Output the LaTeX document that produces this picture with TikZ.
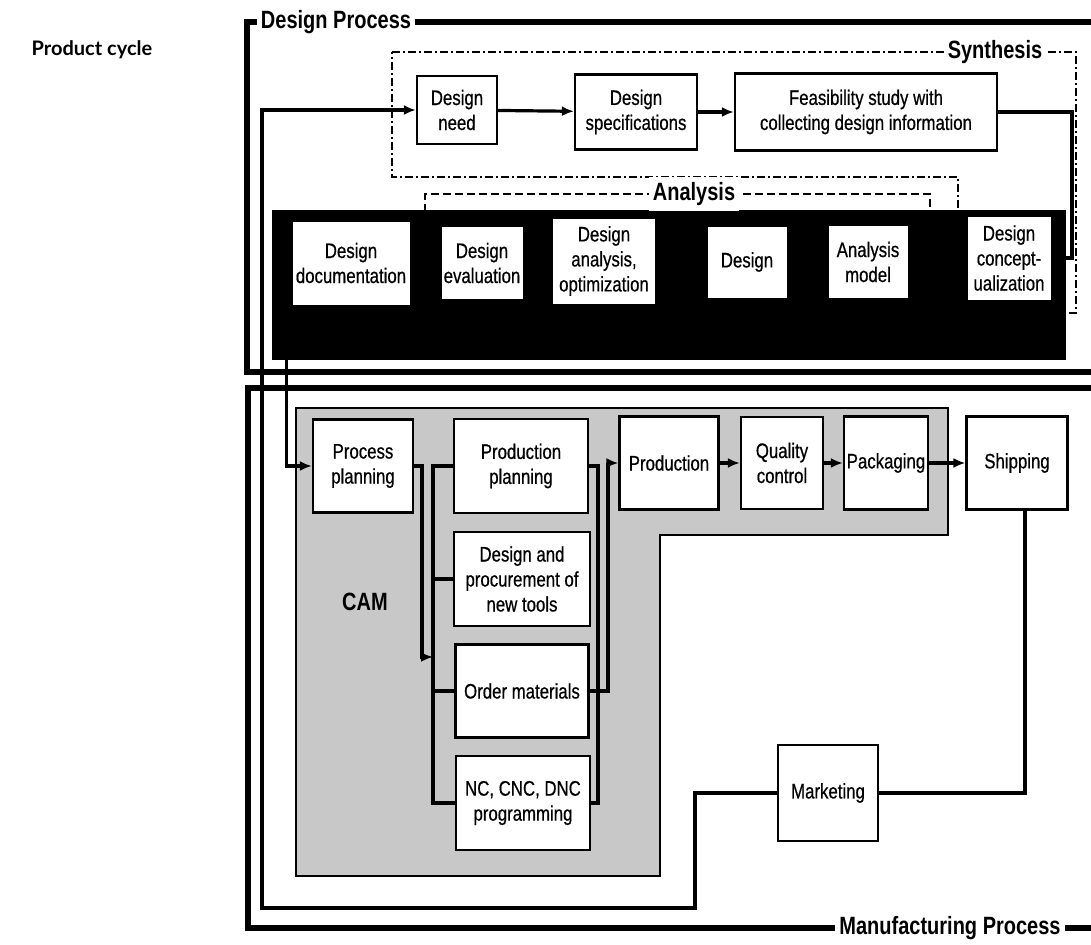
\documentclass[tikz,border=0pt]{standalone}
\usepackage{fontspec}
\setmainfont{Liberation Sans}[FakeStretch=0.8, UprightFeatures={FakeBold=0.6}]
\newfontfamily\cyclefont{Lato}
\usetikzlibrary{arrows.meta}
\definecolor{camgrau}{RGB}{200,200,200}

\begin{document}
\begin{tikzpicture}[x=1pt, y=-1pt, >={Latex[length=12pt,width=10pt]},
	font=\fontsize{21}{25}\selectfont,
	box/.style={draw, line width=2.2pt, fill=white, align=center, inner sep=2pt},
	wbox/.style={fill=white, align=center, inner sep=2pt},
	conn/.style={line width=3.2pt},
	frame/.style={line width=5.5pt},
	lbl/.style={fill=white, inner xsep=4pt, inner ysep=5pt, font=\fontsize{25}{28}\selectfont\bfseries}]

	\useasboundingbox (0,0) rectangle (1091,944);

	\node[font=\cyclefont\fontsize{20}{24}\selectfont\bfseries] (cycle) at (92,50) {Product cycle};

	% frames
	\draw[frame] (1091,22) -- (247,22) -- (247,372) -- (1091,372);
	\draw[frame] (1091,388) -- (248,388) -- (248,928) -- (1091,928);

	\draw[line width=1.8pt, dash pattern=on 8pt off 3pt on 2pt off 3pt]
		(392,52) -- (1076,52) -- (1076,313) -- (958,313) -- (958,177) -- (392,177) -- cycle;
	\draw[line width=1.8pt, dash pattern=on 8pt off 4pt]
		(425,212) -- (425,194) -- (930,194) -- (930,212);

	\fill (272,210) rectangle (1066,360);
	\draw[line width=1.8pt, fill=camgrau]
		(296,408) -- (948,408) -- (948,535) -- (660,535) -- (660,876) -- (296,876) -- cycle;

	% design process
	\node[box, minimum width=80pt, minimum height=68pt] (need) at (457,110) {Design\\need};
	\node[box, minimum width=122pt, minimum height=75pt] (spec) at (636,112) {Design\\specifications};
	\node[box, minimum width=262pt, minimum height=77pt] (feas) at (866,112) {Feasibility study with\\collecting design information};

	\node[wbox, minimum width=117pt, minimum height=83pt] (doc) at (351,263) {Design\\documentation};
	\node[wbox, minimum width=81pt, minimum height=72pt] (eval) at (482,263) {Design\\evaluation};
	\node[wbox, minimum width=102pt, minimum height=85pt] (opt) at (604,261) {Design\\analysis,\\optimization};
	\node[wbox, minimum width=79pt, minimum height=71pt] (design) at (747,262) {Design};
	\node[wbox, minimum width=79pt, minimum height=72pt] (model) at (868,262) {Analysis\\model};
	\node[wbox, minimum width=83pt, minimum height=83pt] (concept) at (1009,258) {Design\\concept-\\ualization};

	% manufacturing process
	\node[box, minimum width=100pt, minimum height=93pt] (pp) at (363,466) {Process\\planning};
	\node[box, minimum width=134pt, minimum height=94pt] (prodplan) at (521,466) {Production\\planning};
	\node[box, minimum width=136pt, minimum height=94pt] (tools) at (522,579) {Design and\\procurement of\\new tools};
	\node[box, minimum width=133pt, minimum height=93pt] (order) at (522,691) {Order materials};
	\node[box, minimum width=134pt, minimum height=94pt] (nc) at (523,803) {NC, CNC, DNC\\programming};
	\node[box, minimum width=99pt, minimum height=93pt] (prod) at (669,463) {Production};
	\node[box, minimum width=82pt, minimum height=92pt] (qc) at (782,463) {Quality\\control};
	\node[box, minimum width=84pt, minimum height=93pt] (pack) at (886,463) {Packaging};
	\node[box, minimum width=101pt, minimum height=93pt] (ship) at (1017,463) {Shipping};
	\node[box, minimum width=100pt, minimum height=96pt] (mkt) at (828,793) {Marketing};

	\node[font=\fontsize{25}{28}\selectfont\bfseries] (cam) at (365,602) {CAM};

	\coordinate (lbus) at (433,0);
	\coordinate (rbus) at (598,0);
	\coordinate (obus) at (608,0);
	\coordinate (pj) at (422,657);

	\draw[conn,->] (need) -- (spec);
	\draw[conn,->] (spec) -- (feas);
	\draw[conn] (feas.east) -| (1072,258) -- (concept.east);
	\draw[conn,->] ([xshift=-6pt]doc.south west) |- (pp.west);

	\draw[conn,->] (pp.east) -| (pj) -- (pj -| lbus);
	\draw[conn] (prodplan.west) -| (lbus |- nc.west) -- (nc.west);
	\draw[conn] (tools.west) -- (tools.west -| lbus);
	\draw[conn] (order.west) -- (order.west -| lbus);
	\draw[conn] (prodplan.east) -| (rbus |- nc.east) -- (nc.east);
	\draw[conn,->] (order.east) -| (obus |- prod.west) -- (prod.west);

	\draw[conn,->] (prod) -- (qc);
	\draw[conn,->] (qc) -- (pack);
	\draw[conn,->] (pack) -- (ship);
	\draw[conn] ([xshift=8pt]ship.south) |- (mkt.east);
	\draw[conn,->] (mkt.west) -| (695,908) -- (262,908) |- (need.west);

	\node[lbl] (dplbl) at (336,22) {Design Process};
	\node[lbl] (synlbl) at (995,52) {Synthesis};
	\node[lbl] (anlbl) at (694,194) {Analysis};
	\node[lbl] (mplbl) at (950,928) {Manufacturing Process};
\end{tikzpicture}
\end{document}
